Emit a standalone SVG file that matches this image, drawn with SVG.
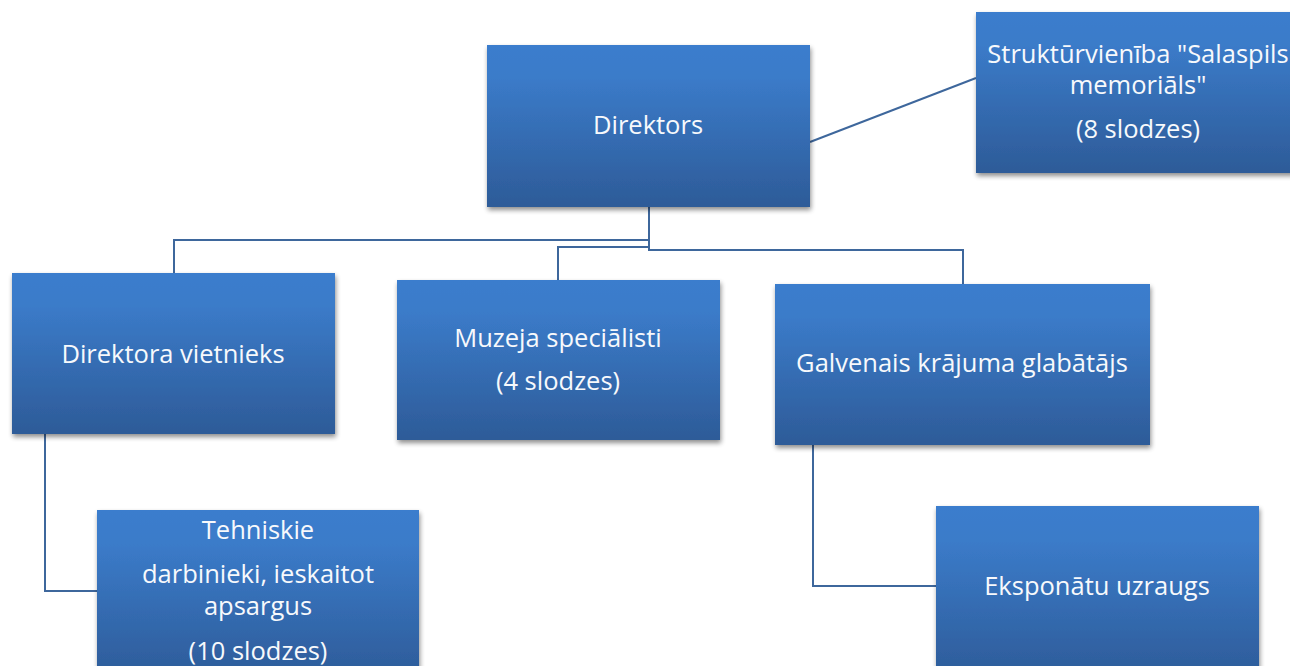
<svg xmlns="http://www.w3.org/2000/svg" width="1290" height="666" viewBox="0 0 1290 666">
<defs>
<linearGradient id="g" x1="0" y1="0" x2="0" y2="1">
<stop offset="0" stop-color="#3b7dcd"/>
<stop offset="0.2" stop-color="#3b7bc9"/>
<stop offset="1" stop-color="#2d5b98"/>
</linearGradient>
<filter id="sh" x="-10%" y="-10%" width="120%" height="125%">
<feGaussianBlur in="SourceAlpha" stdDeviation="2.5"/>
<feOffset dx="1" dy="3" result="b"/>
<feComponentTransfer><feFuncA type="linear" slope="0.45"/></feComponentTransfer>
<feMerge><feMergeNode/><feMergeNode in="SourceGraphic"/></feMerge>
</filter>
</defs>
<style>
.box{fill:url(#g);filter:url(#sh);}
.t{font-family:"Open Sans","Noto Sans",sans-serif;font-size:25.5px;fill:#f7f9fc;text-anchor:middle;}
.c{fill:none;stroke:#3e679c;stroke-width:2;}
</style>
<rect width="1290" height="666" fill="#ffffff"/>
<g id="connectors">
<path class="c" d="M649,207 V250 H963 V284"/>
<path class="c" d="M649,240 H174 V273"/>
<path class="c" d="M649,247 H558 V280"/>
<path class="c" d="M810,142 L976,78"/>
<path class="c" d="M45,434 V591 H97"/>
<path class="c" d="M813,445 V586 H936"/>
</g>
<g id="direktors">
<rect class="box" x="487" y="45" width="323" height="162"/>
<text class="t" x="648" y="134">Direktors</text>
</g>
<g id="salaspils">
<rect class="box" x="976" y="12" width="324" height="161"/>
<text class="t" x="1138" y="63">Struktūrvienība "Salaspils</text>
<text class="t" x="1138" y="94">memoriāls"</text>
<text class="t" x="1138" y="138">(8 slodzes)</text>
</g>
<g id="vietnieks">
<rect class="box" x="12" y="273" width="323" height="161"/>
<text class="t" x="173" y="363">Direktora vietnieks</text>
</g>
<g id="muzeja">
<rect class="box" x="397" y="280" width="323" height="160"/>
<text class="t" x="558" y="347">Muzeja speciālisti</text>
<text class="t" x="558" y="390">(4 slodzes)</text>
</g>
<g id="galvenais">
<rect class="box" x="775" y="284" width="375" height="161"/>
<text class="t" x="962" y="372">Galvenais krājuma glabātājs</text>
</g>
<g id="tehniskie">
<rect class="box" x="97" y="510" width="322" height="170"/>
<text class="t" x="258" y="539">Tehniskie</text>
<text class="t" x="258" y="583">darbinieki, ieskaitot</text>
<text class="t" x="258" y="615">apsargus</text>
<text class="t" x="258" y="660">(10 slodzes)</text>
</g>
<g id="eksponatu">
<rect class="box" x="936" y="506" width="323" height="174"/>
<text class="t" x="1097" y="595">Eksponātu uzraugs</text>
</g>
</svg>
